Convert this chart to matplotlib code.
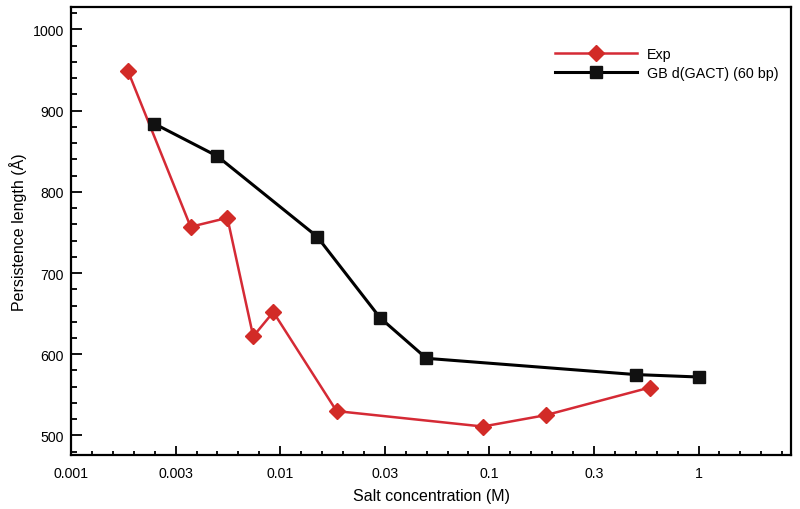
import numpy as np
import matplotlib
matplotlib.use("Agg")
import matplotlib.pyplot as plt
from matplotlib.ticker import FixedLocator, FixedFormatter, NullFormatter

plt.rcParams['font.family'] = ['Liberation Sans', 'DejaVu Sans']

# Data
exp_x = [0.00187, 0.00373, 0.00559, 0.00743, 0.00927, 0.0186, 0.0931, 0.186, 0.584]
exp_y = [949, 757, 768, 622, 652, 530, 511, 525, 559]
gb_x = [0.0025, 0.005, 0.015, 0.03, 0.05, 0.5, 1.0]
gb_y = [884, 844, 745, 645, 595, 575, 572]
xtick_labels = ["0.001", "0.003", "0.01", "0.03", "0.1", "0.3", "1"]
ytick_vals = [500, 600, 700, 800, 900, 1000]

red = '#d52a35'

fig = plt.figure(figsize=(8, 5.1), dpi=100)
ax = fig.add_axes([0.0888, 0.106, 0.9002, 0.878])

ax.plot(exp_x, exp_y, color=red, lw=1.8, marker='D', ms=7.8,
        markerfacecolor='#d22b27', markeredgecolor='#d22b27', label='Exp')
ax.plot(gb_x, gb_y, color='black', lw=2.2, marker='s', ms=8,
        markerfacecolor='#111111', markeredgecolor='#111111',
        label='GB d(GACT) (60 bp)')

ax.set_xscale('log')
ax.set_xlim(1e-3, 10 ** 0.443)
ax.set_ylim(476, 1027.5)

major_x = [10 ** (-3 + 0.5 * k) for k in range(len(xtick_labels))]
minor_x = [10 ** (-3 + 0.1 * k) for k in range(35) if k % 5 != 0]
ax.xaxis.set_major_locator(FixedLocator(major_x))
ax.xaxis.set_major_formatter(FixedFormatter(xtick_labels))
ax.xaxis.set_minor_locator(FixedLocator(minor_x))
ax.xaxis.set_minor_formatter(NullFormatter())

ax.yaxis.set_major_locator(FixedLocator(ytick_vals))
ax.yaxis.set_minor_locator(FixedLocator(list(range(480, 1030, 20))))

ax.tick_params(which='both', direction='in', top=False, right=False, labelsize=10.2, width=1.3)
ax.tick_params(axis='x', which='major', length=6.5, pad=8)
ax.tick_params(axis='x', which='minor', length=3)
ax.tick_params(axis='y', which='major', length=8, pad=5)
ax.tick_params(axis='y', which='minor', length=4)

for s in ax.spines.values():
    s.set_linewidth(1.6)

ax.set_xlabel('Salt concentration (M)', fontsize=11.5, labelpad=6)
ax.set_ylabel('Persistence length (Å)', fontsize=11.5, labelpad=4)

ax.legend(loc='upper left', bbox_to_anchor=(555 / 800, 1 - 48 / 510),
          bbox_transform=fig.transFigure, frameon=False, borderpad=0,
          borderaxespad=0, fontsize=10.3, handlelength=5.7,
          handletextpad=0.7, labelspacing=0.38)

fig.savefig('out.png', dpi=100)
